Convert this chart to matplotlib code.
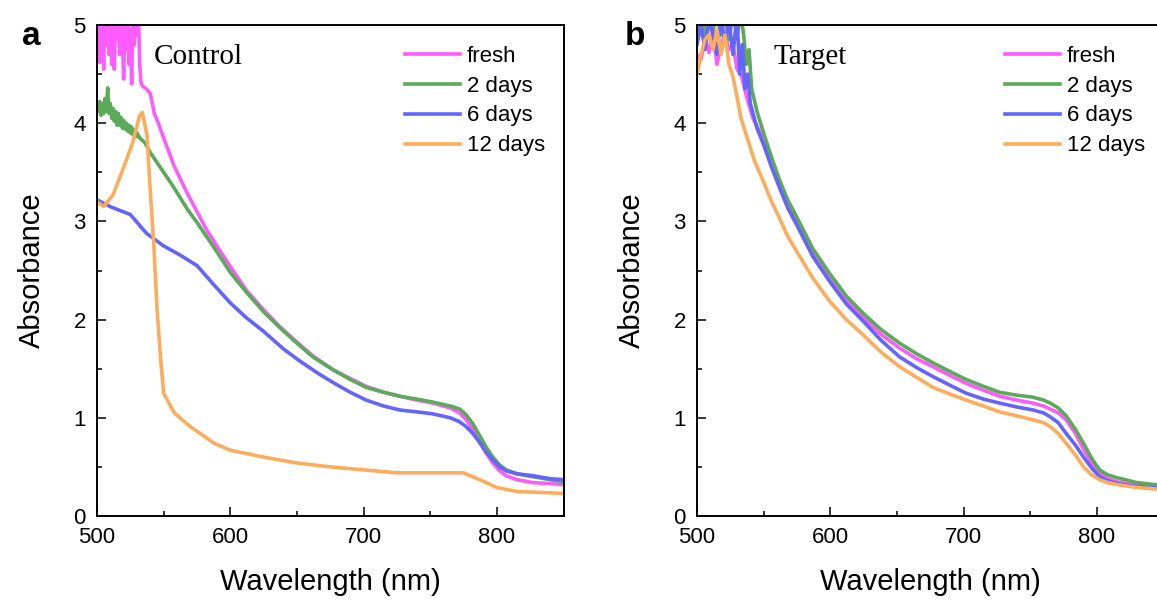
import matplotlib
matplotlib.use("Agg")
import matplotlib.pyplot as plt
from matplotlib.ticker import MultipleLocator

plt.rcParams.update({
    "font.family": "Liberation Sans",
    "font.size": 16,
})

labels = ["fresh", "2 days", "6 days", "12 days"]
colors = ["#ff5cff", "#5aaa5a", "#6464ff", "#ffad5c"]

# ---- Control panel (a) ----
ctrl_fresh_x = [500, 501, 502, 503, 504, 505, 506, 507, 508, 509, 510, 511, 512, 513, 514,
                515, 516, 517, 518, 519, 520, 521, 522, 523, 524, 525, 526, 527, 528, 529,
                530, 531, 532, 533, 534, 537, 540, 543, 546, 550, 558, 568, 575, 582, 590,
                600, 612, 625, 637, 650, 662, 677, 690, 702, 715, 727, 740, 752, 765, 772,
                777, 782, 787, 792, 797, 802, 807, 815, 827, 840, 850]
ctrl_fresh_y = [4.75, 5.1, 4.62, 5.2, 4.9, 4.55, 5.2, 4.8, 5.1, 4.7, 5.2, 4.6, 5.0, 4.55, 5.2,
                4.85, 5.1, 4.7, 5.2, 4.9, 4.45, 5.1, 4.75, 5.2, 4.6, 4.95, 4.4, 5.2, 4.8, 5.1,
                4.9, 5.2, 4.6, 4.42, 4.38, 4.35, 4.3, 4.1, 4.0, 3.85, 3.56, 3.28, 3.1, 2.92, 2.75,
                2.54, 2.3, 2.1, 1.93, 1.77, 1.63, 1.49, 1.4, 1.32, 1.26, 1.22, 1.18, 1.15, 1.1, 1.05,
                0.98, 0.88, 0.76, 0.64, 0.54, 0.46, 0.41, 0.37, 0.34, 0.33, 0.32]

ctrl_2d_x = [500, 501, 502, 503, 504, 505, 506, 507, 508, 509, 510, 511, 512, 513, 514,
             515, 516, 517, 518, 519, 520, 521, 522, 523, 524, 525, 526, 527, 528, 529,
             530, 532, 536, 540, 545, 550, 556, 562, 568, 575, 582, 588, 600, 612, 625,
             637, 650, 662, 677, 690, 702, 715, 727, 740, 752, 765, 772, 777, 782, 787,
             792, 797, 802, 807, 815, 827, 840, 850]
ctrl_2d_y = [4.18, 4.12, 4.22, 4.08, 4.2, 4.1, 4.25, 4.12, 4.36, 4.1, 4.2, 4.05, 4.15, 4.02, 4.12,
             3.98, 4.1, 3.98, 4.06, 3.95, 4.03, 3.94, 4.0, 3.92, 3.98, 3.9, 3.96, 3.88, 3.93, 3.86,
             3.9, 3.85, 3.8, 3.7, 3.6, 3.5, 3.38, 3.25, 3.12, 2.99, 2.85, 2.73, 2.48, 2.28, 2.08,
             1.92, 1.76, 1.62, 1.49, 1.39, 1.31, 1.26, 1.22, 1.19, 1.16, 1.12, 1.09, 1.03, 0.94, 0.82,
             0.7, 0.6, 0.52, 0.47, 0.43, 0.4, 0.37, 0.35]

ctrl_6d_x = [500, 510, 525, 537, 550, 562, 575, 588, 600, 612, 625, 640, 652, 665, 677,
             690, 702, 715, 727, 740, 752, 765, 772, 777, 782, 787, 792, 797, 802, 807,
             815, 827, 840, 850]
ctrl_6d_y = [3.22, 3.15, 3.07, 2.88, 2.75, 2.66, 2.55, 2.35, 2.17, 2.02, 1.88, 1.7, 1.58, 1.46, 1.36,
             1.26, 1.18, 1.12, 1.08, 1.06, 1.04, 1.0, 0.96, 0.91, 0.84, 0.75, 0.65, 0.57, 0.5, 0.46,
             0.43, 0.41, 0.38, 0.37]

ctrl_12d_x = [500, 505, 512, 520, 527, 532, 534, 537.5, 540, 542.5, 545, 547.5, 550, 558, 570,
              588, 600, 625, 650, 675, 700, 725, 750, 775, 787, 800, 815, 850]
ctrl_12d_y = [3.2, 3.15, 3.27, 3.55, 3.81, 4.08, 4.11, 3.88, 3.3, 2.79, 2.12, 1.64, 1.25, 1.05, 0.91,
              0.74, 0.67, 0.6, 0.54, 0.5, 0.47, 0.44, 0.44, 0.44, 0.37, 0.29, 0.25, 0.23]

# ---- Target panel (b) ----
tgt_fresh_x = [500, 503, 506, 509, 512, 515, 518, 521, 524, 527, 530, 533, 537, 542, 550,
               556, 562, 568, 575, 587, 600, 612, 625, 638, 652, 665, 677, 690, 702, 715,
               727, 740, 752, 760, 765, 771, 777, 784, 790, 796, 802, 808, 815, 830, 850]
tgt_fresh_y = [4.7, 4.65, 4.85, 4.72, 4.95, 4.6, 4.8, 4.9, 4.75, 4.8, 4.55, 4.5, 4.28, 4.05, 3.84,
               3.6, 3.37, 3.18, 3.0, 2.68, 2.42, 2.2, 2.02, 1.85, 1.71, 1.6, 1.52, 1.43, 1.35, 1.28,
               1.22, 1.18, 1.15, 1.12, 1.09, 1.05, 0.98, 0.84, 0.68, 0.54, 0.44, 0.38, 0.35, 0.31, 0.27]

tgt_2d_x = [500, 503, 506, 509, 512, 515, 518, 521, 524, 527, 530, 533, 535, 537, 539,
            541, 545, 550, 556, 562, 568, 575, 587, 600, 612, 625, 638, 652, 665, 677,
            690, 702, 715, 727, 740, 752, 760, 765, 771, 777, 784, 790, 796, 802, 808,
            815, 830, 850]
tgt_2d_y = [4.85, 5.1, 4.9, 5.1, 4.95, 5.1, 4.9, 5.1, 4.85, 5.1, 4.9, 5.1, 4.9, 4.6, 4.75,
            4.35, 4.12, 3.9, 3.65, 3.42, 3.22, 3.04, 2.72, 2.46, 2.24, 2.06, 1.9, 1.76, 1.65, 1.56,
            1.47, 1.39, 1.32, 1.26, 1.23, 1.21, 1.18, 1.15, 1.1, 1.02, 0.88, 0.74, 0.59, 0.47, 0.42,
            0.39, 0.34, 0.31]

tgt_6d_x = [500, 503, 506, 509, 512, 515, 518, 521, 524, 527, 530, 532, 534, 536, 538,
            540, 545, 550, 556, 562, 568, 575, 587, 600, 612, 625, 638, 652, 665, 677,
            690, 702, 715, 727, 740, 752, 760, 765, 771, 777, 784, 790, 796, 802, 808,
            815, 830, 850]
tgt_6d_y = [4.8, 5.0, 4.75, 5.05, 4.9, 4.7, 5.1, 4.8, 5.05, 4.7, 5.1, 4.5, 4.8, 4.35, 4.5,
            4.2, 3.95, 3.78, 3.55, 3.34, 3.14, 2.96, 2.64, 2.38, 2.16, 1.98, 1.79, 1.62, 1.51, 1.42,
            1.33, 1.25, 1.19, 1.15, 1.11, 1.08, 1.05, 1.01, 0.95, 0.84, 0.72, 0.6, 0.49, 0.4, 0.36,
            0.33, 0.3, 0.28]

tgt_12d_x = [500, 503, 506, 509, 512, 515, 518, 521, 524, 527, 530, 533, 537, 543, 550,
             556, 562, 568, 575, 587, 600, 612, 625, 638, 652, 665, 677, 690, 702, 715,
             727, 740, 752, 760, 765, 771, 777, 784, 790, 796, 802, 808, 815, 830, 850]
tgt_12d_y = [4.5, 4.7, 4.85, 4.9, 4.75, 4.95, 4.7, 4.9, 4.6, 4.47, 4.27, 4.05, 3.88, 3.62, 3.4,
             3.2, 3.03, 2.85, 2.69, 2.42, 2.18, 2.0, 1.84, 1.67, 1.52, 1.41, 1.31, 1.24, 1.18, 1.12,
             1.06, 1.02, 0.98, 0.95, 0.91, 0.84, 0.74, 0.62, 0.5, 0.42, 0.37, 0.34, 0.32, 0.29, 0.27]

ctrl = [(ctrl_fresh_x, ctrl_fresh_y), (ctrl_2d_x, ctrl_2d_y),
        (ctrl_6d_x, ctrl_6d_y), (ctrl_12d_x, ctrl_12d_y)]
tgt = [(tgt_fresh_x, tgt_fresh_y), (tgt_2d_x, tgt_2d_y),
       (tgt_6d_x, tgt_6d_y), (tgt_12d_x, tgt_12d_y)]

fig = plt.figure(figsize=(11.57, 6.01), dpi=100)
ax1 = fig.add_axes([97 / 1157, 85 / 601, 466.5 / 1157, 491 / 601])
ax2 = fig.add_axes([697 / 1157, 85 / 601, 466.5 / 1157, 491 / 601])

for ax, data, name in [(ax1, ctrl, "Control"), (ax2, tgt, "Target")]:
    for (x, y), c, lab in zip(data, colors, labels):
        ax.plot(x, y, color=c, lw=2.6, label=lab, solid_joinstyle="round")
    ax.set_xlim(500, 850)
    ax.set_ylim(0, 5)
    ax.xaxis.set_major_locator(MultipleLocator(100))
    ax.xaxis.set_minor_locator(MultipleLocator(50))
    ax.yaxis.set_major_locator(MultipleLocator(1))
    ax.yaxis.set_minor_locator(MultipleLocator(0.5))
    ax.tick_params(which="both", direction="in", top=False, right=False, width=1.1, pad=8)
    ax.tick_params(which="major", length=6.5)
    ax.tick_params(which="minor", length=3.6)
    for s in ax.spines.values():
        s.set_linewidth(1.4)
    ax.set_xlabel("Wavelength (nm)", fontsize=21, labelpad=14)
    ax.set_ylabel("Absorbance", fontsize=21, labelpad=20)
    ax.legend(loc="upper left", bbox_to_anchor=(0.66, 0.958), frameon=False, fontsize=16,
              handlelength=2.5, handletextpad=0.3, labelspacing=0.4,
              borderpad=0, borderaxespad=0)

ax1.text(0.122, 0.935, "Control", transform=ax1.transAxes, fontsize=21,
         family="Liberation Serif", va="center", ha="left")
ax2.text(0.165, 0.935, "Target", transform=ax2.transAxes, fontsize=21,
         family="Liberation Serif", va="center", ha="left")

fig.text(22 / 1157, 1 - 45 / 601, "a", fontsize=24, fontweight="bold", va="baseline")
fig.text(625 / 1157, 1 - 45 / 601, "b", fontsize=24, fontweight="bold", va="baseline")

fig.savefig("out.png", dpi=100)
